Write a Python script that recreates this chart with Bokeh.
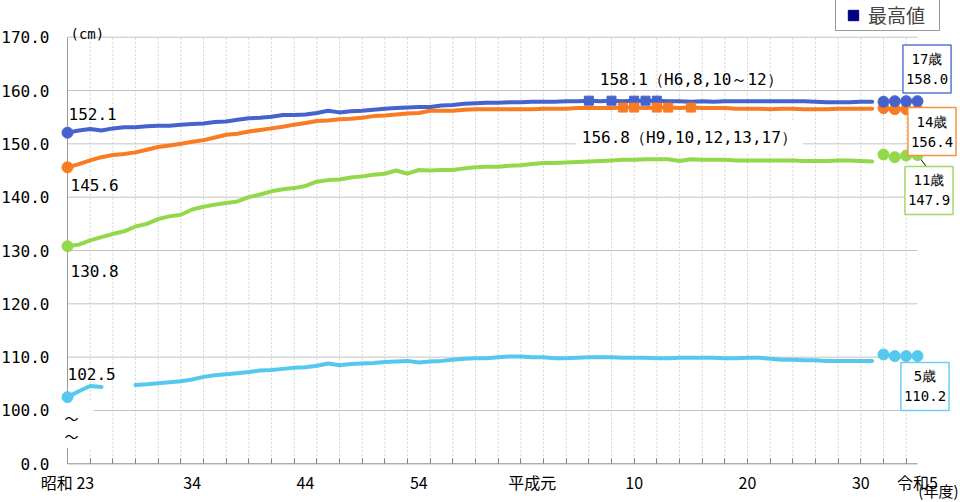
import numpy as np
from bokeh.plotting import figure
from bokeh.models import FixedTicker, Label, Legend, LegendItem, Range1d
from bokeh.embed import file_html
from bokeh.resources import INLINE

NaN = float("nan")

# ---------------- data ----------------
years = list(range(1948, 2020))          # 昭和23 ... 令和元 (line part)

height_17 = [
    152.1, 152.5, 152.8, 152.5, 152.9, 153.1, 153.1, 153.3, 153.4, 153.4,
    153.6, 153.7, 153.8, 154.1, 154.2, 154.5, 154.8, 154.9, 155.1, 155.4,
    155.4, 155.5, 155.8, 156.2, 155.9, 156.1, 156.2, 156.4, 156.6, 156.7,
    156.8, 156.9, 156.9, 157.2, 157.3, 157.5, 157.6, 157.7, 157.7, 157.8,
    157.8, 157.9, 157.9, 157.9, 158.0, 158.0, 158.1, 158.0, 158.1, 158.0,
    158.1, 158.1, 158.1, 158.0, 158.0, 157.9, 158.0, 157.9, 158.0, 158.0,
    158.0, 158.0, 158.0, 158.0, 158.0, 158.0, 157.9, 157.8, 157.8, 157.8,
    157.9, 157.9,
]
height_14 = [
    145.6, 146.2, 146.9, 147.5, 147.9, 148.1, 148.4, 148.9, 149.4, 149.7,
    150.0, 150.4, 150.7, 151.2, 151.7, 151.9, 152.3, 152.6, 152.9, 153.2,
    153.6, 153.9, 154.3, 154.4, 154.6, 154.7, 154.9, 155.2, 155.3, 155.5,
    155.7, 155.8, 156.2, 156.2, 156.2, 156.4, 156.5, 156.5, 156.5, 156.5,
    156.5, 156.5, 156.6, 156.6, 156.6, 156.7, 156.7, 156.7, 156.7, 156.8,
    156.8, 156.7, 156.8, 156.8, 156.7, 156.8, 156.7, 156.7, 156.7, 156.6,
    156.6, 156.6, 156.5, 156.6, 156.6, 156.5, 156.5, 156.5, 156.6, 156.6,
    156.6, 156.6,
]
height_11 = [
    130.8, 131.1, 131.9, 132.5, 133.1, 133.6, 134.5, 135.0, 135.9, 136.4,
    136.7, 137.7, 138.2, 138.6, 138.9, 139.2, 140.0, 140.5, 141.1, 141.5,
    141.7, 142.1, 142.9, 143.2, 143.3, 143.7, 143.9, 144.2, 144.4, 145.0,
    144.4, 145.1, 145.0, 145.1, 145.1, 145.4, 145.6, 145.7, 145.7, 145.9,
    146.0, 146.2, 146.4, 146.4, 146.5, 146.6, 146.7, 146.8, 146.9, 147.0,
    147.0, 147.1, 147.1, 147.1, 146.8, 147.1, 147.0, 147.0, 147.0, 146.9,
    146.9, 146.9, 146.9, 146.9, 146.9, 146.8, 146.8, 146.8, 146.9, 146.9,
    146.8, 146.7,
]
height_5 = [
    102.5, 103.6, 104.6, 104.4, NaN, NaN, 104.8, 104.9, 105.1, 105.3,
    105.5, 105.8, 106.3, 106.6, 106.8, 107.0, 107.2, 107.5, 107.6, 107.8,
    108.0, 108.1, 108.4, 108.8, 108.5, 108.7, 108.8, 108.9, 109.1, 109.2,
    109.3, 109.0, 109.2, 109.3, 109.5, 109.7, 109.8, 109.8, 110.0, 110.1,
    110.1, 110.0, 110.0, 109.8, 109.8, 109.9, 110.0, 110.0, 110.0, 109.9,
    109.9, 109.9, 109.8, 109.8, 109.9, 109.9, 109.9, 109.9, 109.8, 109.8,
    109.9, 109.9, 109.7, 109.5, 109.5, 109.4, 109.4, 109.3, 109.3, 109.3,
    109.3, 109.3,
]

r_years = [2020, 2021, 2022, 2023]       # 令和2 ... 令和5 (dots)
height_17_r = [157.9, 158.0, 158.0, 158.0]
height_14_r = [156.7, 156.5, 156.5, 156.4]
height_11_r = [148.0, 147.5, 147.8, 147.9]
height_5_r = [110.5, 110.2, 110.2, 110.2]

max17_years = [1994, 1996, 1998, 1999, 2000]
max17_value = 158.1
max14_years = [1997, 1998, 2000, 2001, 2003]
max14_value = 156.8

x_label_years = [1948, 1959, 1969, 1979, 1989, 1998, 2008, 2018, 2023]
x_label_text = ["昭和 23", "34", "44", "54", "平成元", "10", "20", "30", "令和5"]
x_minor_years = list(range(1950, 2023, 2))

# broken axis: position 90 carries the "0.0" label
y_tick_pos = [90, 100, 110, 120, 130, 140, 150, 160, 170]
y_tick_text = ["0.0", "100.0", "110.0", "120.0", "130.0", "140.0", "150.0", "160.0", "170.0"]

# ---------------- style / layout ----------------
C17, C14, C11, C5 = "#4662CC", "#F97B22", "#92D84A", "#55C8F0"
B17, B14, B11, B5 = "#5577D4", "#F7923C", "#A5D86A", "#6FCDF0"
NUM_FONT = "DejaVu Sans Mono"
JP_FONT = "Noto Sans CJK JP"

W, H = 960, 502
PX_YEAR = 850 / 75.0            # px per year
PX_CM = 426.6 / 80.0            # px per cm
AX_X, AX_Y = 67.0, 463.3        # pixel position of (1948, 90)
X0 = 1948 - AX_X / PX_YEAR
X1 = 1948 + (W - AX_X) / PX_YEAR
Y0 = 90 - (H - AX_Y) / PX_CM
Y1 = 90 + AX_Y / PX_CM

p = figure(width=W, height=H, output_backend="svg", toolbar_location=None,
           x_range=Range1d(X0, X1), y_range=Range1d(Y0, Y1),
           min_border=0, min_border_left=0, min_border_right=0,
           min_border_top=0, min_border_bottom=0)
p.outline_line_color = None
p.background_fill_color = "white"
p.xgrid.visible = False
p.ygrid.visible = False

# axes, fixed at the corner (1948, 90)
xa = p.xaxis[0]
xa.fixed_location = y_tick_pos[0]
xa.ticker = FixedTicker(ticks=x_label_years, minor_ticks=x_minor_years)
xa.major_label_overrides = dict(zip(x_label_years, x_label_text))
xa.axis_line_color = None
xa.major_tick_line_color = None
xa.major_tick_in = 0
xa.major_tick_out = 0
xa.minor_tick_line_color = "#808080"
xa.minor_tick_in = 5
xa.minor_tick_out = 0
xa.major_label_standoff = 6
xa.major_label_text_font = JP_FONT
xa.major_label_text_font_size = "16px"
xa.major_label_text_color = "black"

ya = p.yaxis[0]
ya.fixed_location = years[0]
ya.ticker = FixedTicker(ticks=y_tick_pos)
ya.major_label_overrides = dict(zip(y_tick_pos, y_tick_text))
ya.axis_line_color = None
ya.major_tick_line_color = None
ya.major_tick_in = 0
ya.major_tick_out = 0
ya.minor_tick_line_color = None
ya.major_label_standoff = 18
ya.major_label_text_font = NUM_FONT
ya.major_label_text_font_size = "16px"
ya.major_label_text_color = "black"

# dotted vertical grid lines at the tick years
nv = len(x_minor_years)
p.segment(x0=x_minor_years, x1=x_minor_years, y0=[y_tick_pos[0]] * nv, y1=[y_tick_pos[-1]] * nv,
          line_color="#d4d4d4", line_width=1, line_dash="2 2")
# horizontal grid lines from the first to the last year
gvals = y_tick_pos[1:]
p.segment(x0=[years[0]] * len(gvals), x1=[r_years[-1]] * len(gvals), y0=gvals, y1=gvals,
          line_color="#c4c4c4", line_width=1)
# axis lines
p.segment(x0=[years[0]], x1=[years[0]], y0=[y_tick_pos[0]], y1=[y_tick_pos[-1]],
          line_color="#9a9a9a", line_width=1)
p.segment(x0=[years[0]], x1=[r_years[-1]], y0=[y_tick_pos[0]], y1=[y_tick_pos[0]],
          line_color="#8a8a8a", line_width=1)
# axis break
p.quad(left=[years[0] - 1], right=[years[0] + 26 / PX_YEAR], bottom=[93.0], top=[101.8],
       fill_color="white", line_color=None)
for ty in (98.6, 95.25):
    p.add_layout(Label(x=years[0], y=ty, x_offset=4, text="〜", text_align="center",
                       text_baseline="middle", text_font=JP_FONT, text_font_size="14px",
                       text_color="black"))

# series
for vals, col in ((height_5, C5), (height_11, C11), (height_14, C14), (height_17, C17)):
    p.line(years, np.array(vals, dtype=float), line_color=col, line_width=4,
           line_join="round", line_cap="round")
    p.scatter([years[0]], [vals[0]], size=11, color=col)

p.scatter(max17_years, [max17_value] * len(max17_years), marker="square", size=9, color=C17)
p.scatter(max14_years, [max14_value] * len(max14_years), marker="square", size=9, color=C14)

# leader line for 11歳
p.segment(x0=[r_years[-1]], y0=[height_11_r[-1]], x1=[r_years[-1] + 0.97],
          y1=[height_11_r[-1] - 2.7], line_color="black", line_width=1)

for vals, col in ((height_5_r, C5), (height_11_r, C11), (height_14_r, C14), (height_17_r, C17)):
    p.scatter(r_years, vals, size=11, color=col)

# ---------------- labels ----------------
def lab(x, y, dx, dy, text, font=NUM_FONT, size="16px", align="left", **kw):
    p.add_layout(Label(x=x, y=y, x_offset=dx, y_offset=dy, text=text, text_align=align,
                       text_baseline="alphabetic", text_font=font, text_font_size=size,
                       text_color="black", **kw))

lab(years[0], height_17[0], 1, 19, "152.1")
lab(years[0], height_14[0], 3, -18, "145.6")
lab(years[0], height_11[0], 3, -25, "130.8")
lab(years[0], height_5[0], 0, 23, "102.5")
lab(max17_years[0], max17_value, 11, 21, "158.1（H6,8,10～12）")
lab(max14_years[0], max14_value, -47, -30, "156.8（H9,10,12,13,17）",
    background_fill_color="white", padding=6)
lab(years[0], y_tick_pos[-1], 3, 3, "(cm)", size="14px")


def box(x, y, dx, dy, text, col):
    p.add_layout(Label(x=x, y=y, x_offset=dx, y_offset=dy, text=text, text_align="center",
                       text_baseline="middle", text_font=NUM_FONT, text_font_size="14px",
                       text_line_height=1.25, text_color="black",
                       border_line_color=col, border_line_width=1.5,
                       background_fill_color="white", padding=(3, 6)))


box(r_years[-1], height_17_r[-1], 9.5, 32.2, "17歳\n158.0", B17)
box(r_years[-1], height_14_r[-1], 14.5, -21.8, "14歳\n156.4", B14)
box(r_years[-1], height_11_r[-1], 11.5, -35.4, "11歳\n147.9", B11)
box(r_years[-1], height_5_r[-1], 7.5, -30.4, "5歳\n110.2", B5)

p.add_layout(Label(x=r_years[-1], y=y_tick_pos[0], x_offset=41, y_offset=-37.5,
                   text="(年度)", text_align="right", text_baseline="bottom",
                   text_font=JP_FONT, text_font_size="15px", text_color="black"))

# legend 最高値 (its renderer has no visible point)
r_leg = p.scatter(x=[NaN], y=[NaN], marker="square", color="#000080")
legend = Legend(items=[LegendItem(label="最高値", renderers=[r_leg])],
                location=(835, H - 31), orientation="vertical",
                padding=2, spacing=0, margin=0, glyph_width=30, glyph_height=26,
                label_standoff=0, label_width=69, label_height=26,
                label_text_font=JP_FONT, label_text_font_size="19px",
                label_text_baseline="middle", border_line_color="#333333",
                border_line_width=1, background_fill_color="white",
                background_fill_alpha=1.0)
p.add_layout(legend)

open("out.html", "w").write(file_html(p, INLINE))
